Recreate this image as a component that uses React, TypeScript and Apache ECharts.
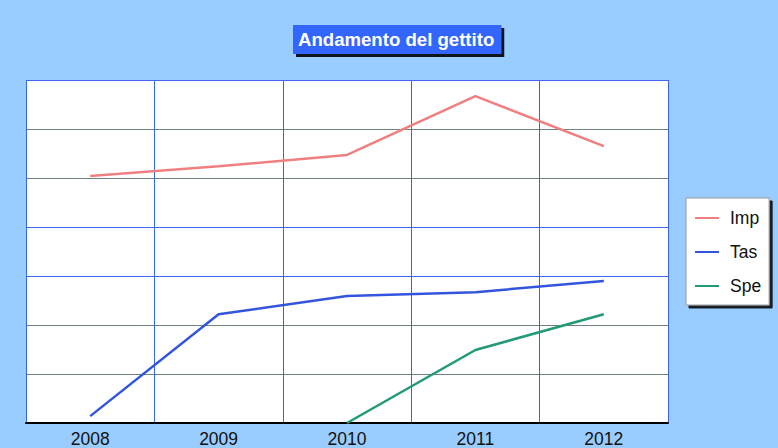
import React, { useEffect, useRef } from "react";
import * as echarts from "echarts";

const years = ["2008", "2009", "2010", "2011", "2012"];
const impValues = [5.04, 5.24, 5.47, 6.67, 5.65];
const tasValues = [0.14, 2.22, 2.59, 2.67, 2.9];
const speValues: (number | null)[] = [null, null, 0, 1.49, 2.22];
const seriesNames = ["Imp", "Tas", "Spe"];

export default function App() {
  const ref = useRef<HTMLDivElement>(null);
  useEffect(() => {
    const chart = echarts.init(ref.current!, undefined, { renderer: "svg" });
    const font = "'Liberation Sans', Arial, sans-serif";
    chart.setOption({
      animation: false,
      backgroundColor: "#99CCFF",
      title: {
        text: "Andamento del gettito",
        left: 293,
        top: 25,
        padding: [5, 7, 5, 5],
        backgroundColor: "#3366FF",
        shadowColor: "rgba(0,0,0,0.9)",
        shadowOffsetX: 3,
        shadowOffsetY: 3,
        shadowBlur: 0,
        textStyle: { color: "#ffffff", fontFamily: font, fontWeight: "bold", fontSize: 18.6 },
      },
      legend: {
        orient: "vertical",
        left: 686,
        top: 198,
        padding: [11, 8, 10, 9],
        backgroundColor: "#ffffff",
        borderColor: "#999999",
        borderWidth: 1,
        shadowColor: "rgba(0,0,0,0.85)",
        shadowOffsetX: 3,
        shadowOffsetY: 3,
        shadowBlur: 0,
        icon: "rect",
        itemWidth: 24,
        itemHeight: 2,
        itemGap: 16,
        textStyle: { fontFamily: font, fontSize: 17.5, color: "#111", padding: [0, 0, 0, 6] },
        data: seriesNames,
      },
      grid: { left: 26, right: 110, top: 80, bottom: 25, backgroundColor: "#fff", show: true, borderWidth: 0 },
      xAxis: {
        type: "category",
        data: years,
        boundaryGap: true,
        axisLine: { show: true, lineStyle: { color: "#000", width: 2 } },
        axisTick: { show: false },
        axisLabel: { fontFamily: font, fontSize: 17.5, color: "#111", margin: 7 },
        splitLine: { show: true, lineStyle: { color: "#3366EE", width: 1 } },
      },
      yAxis: {
        type: "value",
        min: 0,
        max: 7,
        interval: 1,
        axisLine: { show: false },
        axisTick: { show: false },
        axisLabel: { show: false },
        splitLine: {
          show: true,
          lineStyle: {
            color: ["#000", "#708080", "#708080", "#4466EE", "#4466EE", "#708080", "#708080", "#4466EE"],
            width: 1,
          },
        },
      },
      series: [
        { name: "Imp", type: "line", data: impValues, showSymbol: false, color: "#F08080", lineStyle: { width: 2.5 } },
        { name: "Tas", type: "line", data: tasValues, showSymbol: false, color: "#3355DD", lineStyle: { width: 2.5 } },
        { name: "Spe", type: "line", data: speValues, showSymbol: false, color: "#229977", lineStyle: { width: 2.5 } },
      ],
    });
    return () => chart.dispose();
  }, []);
  return <div ref={ref} style={{ position: "absolute", left: 0, top: 0, width: 778, height: 448 }} />;
}
